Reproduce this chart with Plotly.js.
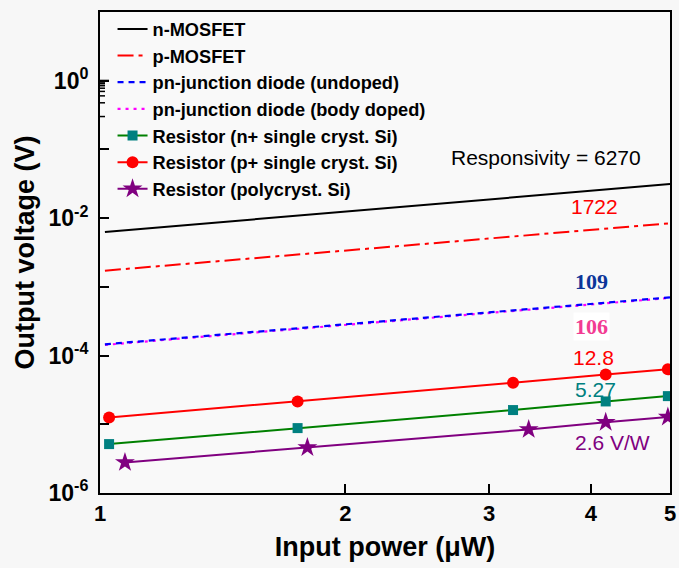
<!DOCTYPE html>
<html>
<head>
<meta charset="utf-8">
<script src="https://cdn.plot.ly/plotly-3.0.1.min.js"></script>
<style>html,body{margin:0;padding:0;background:#f7f7f7;}#chart{width:679px;height:568px;}</style>
</head>
<body>
<div id="chart"></div>
<script>
// Data (input power in µW, output voltage in V)
const lineX = [1.014, 5];
const nMosfetY = [6.3e-3, 3.13e-2];
const pMosfetY = [1.72e-3, 8.4e-3];
const diodeUndopedY = [1.46e-4, 7.03e-4];
const diodeDopedY = [1.43e-4, 6.9e-4];

const nPlusX = [1.026, 1.747, 3.21, 4.17, 4.97];
const nPlusY = [5.15e-6, 8.8e-6, 1.61e-5, 2.15e-5, 2.57e-5];
const pPlusX = [1.026, 1.747, 3.21, 4.17, 4.97];
const pPlusY = [1.26e-5, 2.15e-5, 4.02e-5, 5.32e-5, 6.3e-5];
const polyX = [1.073, 1.796, 3.355, 4.17, 4.97];
const polyY = [2.79e-6, 4.61e-6, 8.43e-6, 1.07e-5, 1.28e-5];

const xTickVals = [1, 2, 3, 4, 5];
const xTickText = ['1', '2', '3', '4', '5'];
const yTickVals = [1e-6, 1e-5, 1e-4, 1e-3, 1e-2, 1e-1, 1, 10];
const yTickText = ['10<sup>-6</sup>', '', '10<sup>-4</sup>', '', '10<sup>-2</sup>', '', '10<sup>0</sup>', ''];

const seriesNames = ['n-MOSFET', 'p-MOSFET', 'pn-junction diode (undoped)', 'pn-junction diode (body doped)',
  'Resistor (n+ single cryst. Si)', 'Resistor (p+ single cryst. Si)', 'Resistor (polycryst. Si)'];
const responsivityLabels = ['Responsivity = 6270', '1722', '109', '106', '12.8', '5.27', '2.6 V/W'];

// minor tick positions (axis decoration only)
const xMinorVals = [];
for (let d = 1; d < 5; d++) { for (let k = 1; k < 10; k++) { xMinorVals.push(d + k / 10); } }
const yMinorVals = [];
for (let e = -6; e < 1; e++) { for (let m = 2; m < 10; m++) { yMinorVals.push(m * Math.pow(10, e)); } }

const sans = 'Liberation Sans, Arial, sans-serif';
const serif = 'Liberation Serif, Times New Roman, serif';

const traces = [
  {x: lineX, y: nMosfetY, name: seriesNames[0], mode: 'lines', legendrank: 1,
   line: {color: '#000000', width: 2}},
  {x: lineX, y: pMosfetY, name: seriesNames[1], mode: 'lines', legendrank: 2,
   line: {color: '#ff0000', width: 2, dash: '16px,5px,4px,5px'}},
  {x: lineX, y: diodeDopedY, name: seriesNames[3], mode: 'lines', legendrank: 4,
   line: {color: '#ff00ff', width: 2.2, dash: '3px,5px'}},
  {x: lineX, y: diodeUndopedY, name: seriesNames[2], mode: 'lines', legendrank: 3,
   line: {color: '#0000ff', width: 2.2, dash: '6px,5px'}},
  {x: nPlusX, y: nPlusY, name: seriesNames[4], mode: 'lines+markers', legendrank: 5,
   line: {color: '#008000', width: 2},
   marker: {symbol: 'square', size: 10, color: '#008080'}},
  {x: pPlusX, y: pPlusY, name: seriesNames[5], mode: 'lines+markers', legendrank: 6,
   line: {color: '#ff0000', width: 2},
   marker: {symbol: 'circle', size: 12, color: '#ff0000'}},
  {x: polyX, y: polyY, name: seriesNames[6], mode: 'lines+markers', legendrank: 7,
   line: {color: '#800080', width: 2},
   marker: {symbol: 'star', size: 15, color: '#800080'}}
];

function ann(text, x, y, color, font, size, bg) {
  const a = {text: text, xref: 'paper', yref: 'paper', x: x, y: y, xanchor: 'left', yanchor: 'middle',
    showarrow: false, font: {family: font, size: size, color: color}};
  if (bg) { a.bgcolor = bg; }
  return a;
}

// inward tick marks drawn as axis-referenced shapes (log axes take log10 positions)
const plotW = 570, plotH = 481;
function xTick(v, len, w) {
  return {type: 'line', layer: 'above', xref: 'x', yref: 'paper',
    x0: Math.log10(v), x1: Math.log10(v), y0: 0, y1: len / plotH,
    line: {color: '#000000', width: w}};
}
function yTick(v, len, w) {
  return {type: 'line', layer: 'above', xref: 'paper', yref: 'y',
    x0: 0, x1: len / plotW, y0: Math.log10(v), y1: Math.log10(v),
    line: {color: '#000000', width: w}};
}
const tickShapes = [].concat(
  xTickVals.map(v => xTick(v, 9, 2)),
  xMinorVals.map(v => xTick(v, 5, 1.5)),
  yTickVals.map(v => yTick(v, 9, 2)),
  yMinorVals.map(v => yTick(v, 5, 1.5))
);

const layout = {
  width: 679, height: 568,
  paper_bgcolor: '#f7f7f7',
  plot_bgcolor: '#f9f9f9',
  margin: {l: 100, r: 9, t: 12, b: 75},
  font: {family: sans, color: '#000000'},
  showlegend: true,
  legend: {
    x: 0.022, y: 1.003, xanchor: 'left', yanchor: 'top',
    bgcolor: 'rgba(0,0,0,0)',
    font: {family: sans, size: 18.2, color: '#000000', weight: 'bold'},
    tracegroupgap: 0, itemwidth: 30
  },
  xaxis: {
    type: 'log', range: [0, Math.log10(5)],
    tickmode: 'array', tickvals: xTickVals, ticktext: xTickText,
    ticks: 'inside', ticklen: 9, tickwidth: 2, tickcolor: '#000000',
    showline: true, linecolor: '#000000', linewidth: 2, mirror: true,
    showgrid: false, zeroline: false,
    tickfont: {family: sans, size: 22, color: '#000', weight: 'bold'},
    title: {text: 'Input power (\u03bcW)', standoff: 12,
      font: {family: sans, size: 27, color: '#000', weight: 'bold'}}
  },
  yaxis: {
    type: 'log', range: [-6, 1],
    tickmode: 'array', tickvals: yTickVals, ticktext: yTickText,
    ticks: 'inside', ticklen: 9, tickwidth: 2, tickcolor: '#000000',
    showline: true, linecolor: '#000000', linewidth: 2, mirror: true,
    showgrid: false, zeroline: false,
    ticklabelstandoff: 5,
    tickfont: {family: sans, size: 23, color: '#000', weight: 'bold'},
    title: {text: 'Output voltage (V)', standoff: 6,
      font: {family: sans, size: 27, color: '#000', weight: 'bold'}}
  },
  shapes: tickShapes,
  annotations: [
    ann(responsivityLabels[0], 0.612, 0.6965, '#000000', sans, 21),
    ann(responsivityLabels[1], 0.822, 0.5946, '#ff0000', sans, 21),
    ann('<b>' + responsivityLabels[2] + '</b>', 0.83, 0.4387, '#0d3599', serif, 22),
    ann('<b>' + responsivityLabels[3] + '</b>', 0.83, 0.347, '#f23c93', serif, 22, '#ffffff'),
    ann(responsivityLabels[4], 0.826, 0.2827, '#ff0000', sans, 21),
    ann(responsivityLabels[5], 0.83, 0.216, '#008080', sans, 21),
    ann(responsivityLabels[6], 0.83, 0.104, '#800080', sans, 21)
  ]
};

Plotly.newPlot('chart', traces, layout, {displayModeBar: false, staticPlot: true});
</script>
</body>
</html>
